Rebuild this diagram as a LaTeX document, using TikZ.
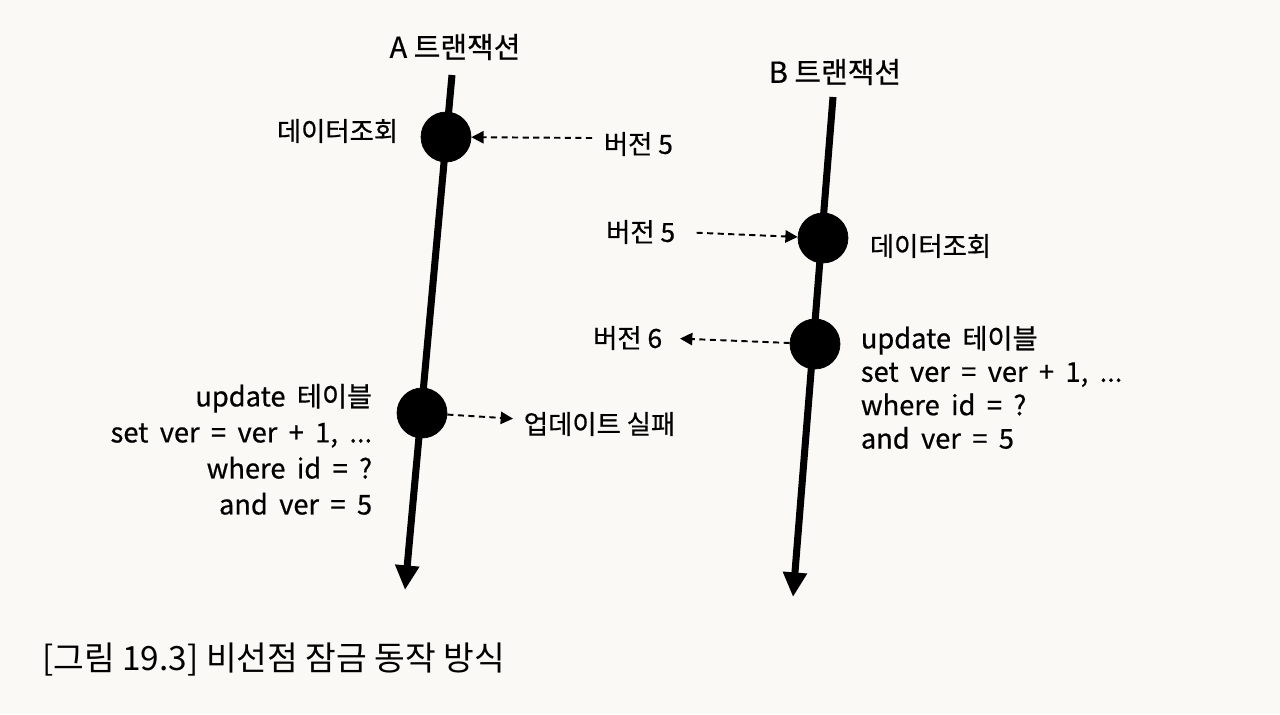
\documentclass[tikz,border=0pt]{standalone}
\usepackage{fontspec}
\setmainfont{Noto Sans CJK KR}[FakeBold=0.6]
\newfontfamily\captionfont{Noto Sans CJK KR}
\usetikzlibrary{arrows.meta}

\definecolor{paper}{RGB}{250,249,245}
\newcommand\widesp{\spaceskip=0.42em\relax}

\begin{document}
\begin{tikzpicture}
[x=0.02cm,y=-0.02cm,
 dot/.style={draw,circle,fill=black,minimum size=1cm,inner sep=0pt},
 txt/.style={font=\fontsize{15}{20.5}\selectfont,inner sep=2pt},
 upd/.style={txt,font=\fontsize{15.5}{20.5}\selectfont\widesp},
 timeline/.style={line width=4pt,-{Triangle[length=14pt,width=13pt]}},
 dasharrow/.style={line width=1.1pt,dash pattern=on 3.5pt off 2.5pt,-{Triangle[length=7pt,width=7pt]}},]

%Page
\fill[paper] (0,0) rectangle (1280,714);
\useasboundingbox (0,0) rectangle (1280,714);

%Time lines
\coordinate (Atop) at (452,75);
\coordinate (Abot) at (405,590);
\coordinate (Btop) at (833,97);
\coordinate (Bbot) at (793,597);
\draw[timeline] (Atop) -- (Abot);
\draw[timeline] (Btop) -- (Bbot);

%Titles
\node (Atitle) at (455,47)[txt,font=\fontsize{16.5}{20}\selectfont] {A 트랜잭션};
\node (Btitle) at (835,72)[txt,font=\fontsize{16.5}{20}\selectfont] {B 트랜잭션};

%Events
\node (Aread) at (446,137)[dot] {};
\node (Aupd) at (422,413)[dot] {};
\node (Bread) at (823,238)[dot] {};
\node (Bupd) at (815,344)[dot] {};

%Labels A
\node (Areadtxt) at (402,131)[txt,anchor=east] {데이터조회};
\node (Av5) at (600,144)[txt,anchor=west] {버전 5};
\node (Aupdtxt) at (376,380)[upd,anchor=north east,align=right] {update 테이블\\set ver = ver + 1, ...\\where id = ?\\and ver = 5};
\node (Afail) at (520,424)[txt,anchor=west] {업데이트 실패};

%Labels B
\node (Bv5) at (679,232)[txt,anchor=east] {버전 5};
\node (Breadtxt) at (866,246)[txt,anchor=west] {데이터조회};
\node (Bv6) at (666,338)[txt,anchor=east] {버전 6};
\node (Bupdtxt) at (857,322)[upd,anchor=north west,align=left,font=\fontsize{15.5}{19}\selectfont\widesp] {update 테이블\\set ver = ver + 1, ...\\where id = ?\\and ver = 5};

%Drawing arrows
\draw[dasharrow] (Av5.west) ++(-8,-6) -- (Aread);
\draw[dasharrow,shorten <=10pt] (Bv5.east) -- (Bread);
\draw[dasharrow,shorten >=8pt] (Bupd) -- (Bv6.east);
\draw[dasharrow,shorten >=4pt] (Aupd) -- (Afail);

%Caption
\node (caption) at (36,660)[anchor=west,font=\captionfont\fontsize{19}{22}\selectfont] {[그림 19.3] 비선점 잠금 동작 방식};

\end{tikzpicture}
\end{document}
